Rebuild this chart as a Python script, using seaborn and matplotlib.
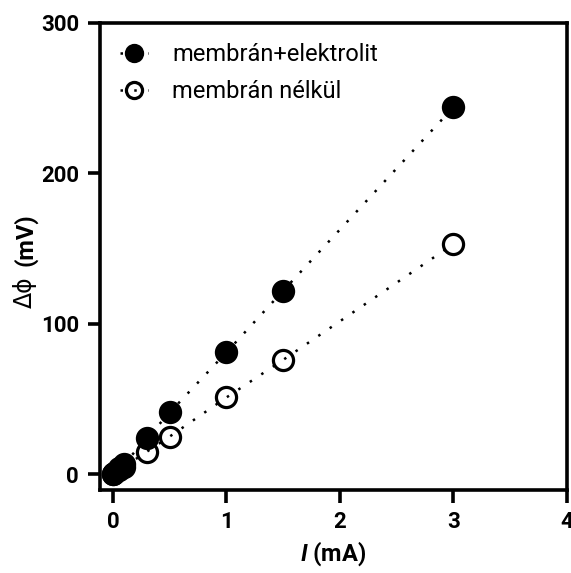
import matplotlib
matplotlib.use("Agg")
import matplotlib.pyplot as plt
import seaborn as sns
import pandas as pd

current_ma = [0, 0.01, 0.05, 0.1, 0.3, 0.5, 1.0, 1.5, 3.0]
dphi_with_electrolyte = [0, 1, 4, 7, 24, 41, 81, 122, 244]
dphi_without_membrane = [0, 0.5, 2.5, 5, 15, 25, 51, 76, 153]
series_names = ["membrán+elektrolit", "membrán nélkül"]
x_ticks = [0, 1, 2, 3, 4]
y_ticks = [0, 100, 200, 300]

df = pd.concat([
    pd.DataFrame({"I": current_ma, "dphi": dphi_with_electrolyte, "series": series_names[0]}),
    pd.DataFrame({"I": current_ma, "dphi": dphi_without_membrane, "series": series_names[1]}),
])

sns.set_theme(style="ticks")
plt.rcParams["font.family"] = ["Roboto", "DejaVu Sans"]
plt.rcParams["text.color"] = "black"
plt.rcParams["axes.labelcolor"] = "black"
plt.rcParams["xtick.color"] = "black"
plt.rcParams["ytick.color"] = "black"
plt.rcParams["mathtext.fontset"] = "custom"
plt.rcParams["mathtext.it"] = "Roboto:italic:bold"
plt.rcParams["mathtext.rm"] = "Roboto:bold"

fig = plt.figure(figsize=(5.71, 5.73), dpi=100)
ax = fig.add_axes([0.175, 0.145, 0.818, 0.815])

styles = {
    series_names[0]: dict(marker="o", markerfacecolor="black", markeredgecolor="black", zorder=4),
    series_names[1]: dict(marker="o", markerfacecolor="none", markeredgecolor="black", zorder=3),
}
# hollow series first so the filled markers sit on top near the origin
for name in [series_names[1], series_names[0]]:
    sub = df[df["series"] == name]
    sns.lineplot(data=sub, x="I", y="dphi", ax=ax, color="black", linestyle=(0, (1, 4.5)),
                 linewidth=1.8, markersize=14.5, markeredgewidth=2.3, label=name,
                 **styles[name])

ax.set_xlim(-0.115, 4)
ax.set_ylim(-10.5, 300)
ax.set_xticks(x_ticks)
ax.set_yticks(y_ticks)
ax.set_xticklabels([str(t) for t in x_ticks])
ax.set_yticklabels([str(t) for t in y_ticks])
for lab in ax.get_xticklabels() + ax.get_yticklabels():
    lab.set_fontweight("bold")
    lab.set_fontsize(16)

for s in ax.spines.values():
    s.set_linewidth(2.6)
    s.set_color("black")
ax.tick_params(axis="both", length=9, width=2.6, color="black", pad=6)

ax.set_xlabel(r"$\mathit{I}$ (mA)", fontsize=17, fontweight="bold", labelpad=5)
ax.set_ylabel("")
# y label: regular-weight symbol, bold unit
ax.text(-0.16, 0.424, "Δϕ", transform=ax.transAxes, rotation=90, fontsize=17,
        ha="center", va="center", family=["DejaVu Sans"])
ax.text(-0.16, 0.535, "(mV)", transform=ax.transAxes, rotation=90, fontsize=17,
        fontweight="bold", ha="center", va="center")

handles, labels = ax.get_legend_handles_labels()
order = [labels.index(n) for n in series_names]
leg = ax.legend([handles[i] for i in order], [labels[i] for i in order],
                loc="upper left", frameon=False, fontsize=17, handlelength=1.2,
                handletextpad=1.0, labelspacing=0.6, borderaxespad=0.45,
                markerscale=0.8)

fig.savefig("out.png", dpi=100, facecolor="white")
